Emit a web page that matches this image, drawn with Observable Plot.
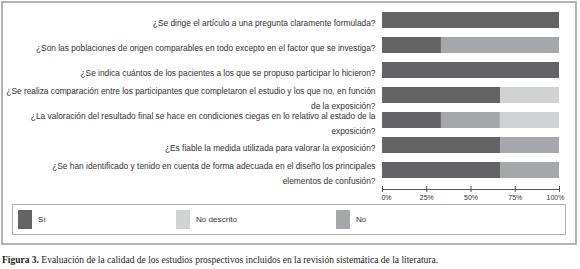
<!DOCTYPE html>
<html><head><meta charset="utf-8">
<script src="https://cdn.jsdelivr.net/npm/d3@7"></script>
<script src="https://cdn.jsdelivr.net/npm/@observablehq/plot@0.6"></script>
<style>
body{margin:0;background:#fff;width:580px;height:269px;overflow:hidden;position:relative;font-family:"Liberation Sans",Arial,sans-serif;}
#frame{position:absolute;left:1px;top:1px;width:572px;height:240px;border:2px solid #b3b3b3;}
#chart{position:absolute;left:0;top:0;}
#legend{position:absolute;left:9px;top:201px;width:552px;height:29px;border:1px solid #b0b0b0;}
.item{position:absolute;top:0;height:29px;display:flex;align-items:center;font-size:8.1px;color:#333;}
.sw{width:14px;height:19px;margin-right:6px;}
#caption{position:absolute;left:2px;top:255px;font-family:"Liberation Serif","Times New Roman",serif;font-size:9.5px;color:#231f20;white-space:nowrap;}
</style></head>
<body>
<div id="frame"><div id="chart"></div><div id="legend"></div></div>
<div id="caption"><b>Figura 3.</b> Evaluación de la calidad de los estudios prospectivos incluidos en la revisión sistemática de la literatura.</div>
<script>
const questions = [
  "¿Se dirige el artículo a una pregunta claramente formulada?",
  "¿Son las poblaciones de origen comparables en todo excepto en el factor que se investiga?",
  "¿Se indica cuántos de los pacientes a los que se propuso participar lo hicieron?",
  "¿Se realiza comparación entre los participantes que completaron el estudio y los que no, en función\nde la exposición?",
  "¿La valoración del resultado final se hace en condiciones ciegas en lo relativo al estado de la\nexposición?",
  "¿Es fiable la medida utilizada para valorar la exposición?",
  "¿Se han identificado y tenido en cuenta de forma adecuada en el diseño los principales\nelementos de confusión?"
];
const categories = ["Sí", "No descrito", "No"];
const stackOrder = ["Sí", "No", "No descrito"];
const colors = ["#646467", "#d1d2d4", "#a6a7aa"];
const si = [100, 33.3, 100, 66.7, 33.3, 66.7, 66.7];
const no = [0, 66.7, 0, 0, 33.3, 33.3, 33.3];
const noDescrito = [0, 0, 0, 33.3, 33.4, 0, 0];
const xTicks = [0, 25, 50, 75, 100];

const data = [];
questions.forEach((q, i) => {
  data.push({question: q, category: "Sí", value: si[i]});
  data.push({question: q, category: "No", value: no[i]});
  data.push({question: q, category: "No descrito", value: noDescrito[i]});
});

const fmt = d => d + "%";
const tickLabelOpts = {x: d => d, text: fmt, frameAnchor: "bottom", lineAnchor: "top", dy: 9, fontSize: 7, fill: "#333"};

const chart = Plot.plot({
  width: 572,
  height: 200,
  marginLeft: 379,
  marginRight: 16,
  marginTop: 6,
  marginBottom: 17,
  style: {fontFamily: "Liberation Sans, Arial, sans-serif", background: "#fff"},
  x: {domain: [0, 100], axis: null, label: null},
  y: {domain: questions, padding: 0.36, paddingOuter: 0, insetBottom: 6, axis: null},
  color: {domain: categories, range: colors},
  marks: [
    Plot.barX(data, Plot.stackX({x: "value", y: "question", fill: "category", order: stackOrder})),
    Plot.text(questions, {y: d => d, text: d => d, frameAnchor: "left", textAnchor: "end", dx: -7, dy: 1, fontSize: 8.35, lineHeight: 1.85, fill: "#333", lineWidth: 200}),
    Plot.frame({anchor: "bottom", dy: 3, stroke: "#555"}),
    Plot.axisX({ticks: xTicks, tickFormat: () => "", tickSize: 6, stroke: "#555", label: null}),
    Plot.text(xTicks.slice(1, -1), tickLabelOpts),
    Plot.text(xTicks.slice(0, 1), {...tickLabelOpts, dx: 4}),
    Plot.text(xTicks.slice(-1), {...tickLabelOpts, dx: -4})
  ]
});
document.getElementById("chart").appendChild(chart);

const legend = document.getElementById("legend");
const lefts = [5, 163, 323];
categories.forEach((c, i) => {
  const it = document.createElement("div");
  it.className = "item";
  it.style.left = lefts[i] + "px";
  it.innerHTML = `<div class="sw" style="background:${colors[i]}"></div><span>${c}</span>`;
  legend.appendChild(it);
});
</script>
</body></html>
